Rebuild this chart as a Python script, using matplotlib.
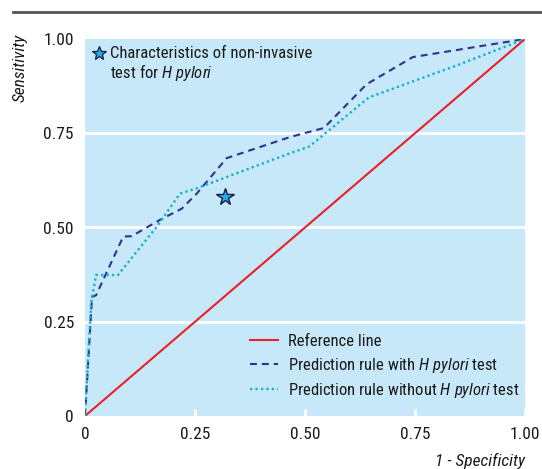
import matplotlib
matplotlib.use("Agg")
import matplotlib.pyplot as plt
from matplotlib.lines import Line2D

FONT = "Roboto Condensed"
plt.rcParams['font.family'] = [FONT, 'DejaVu Sans']
plt.rcParams['mathtext.fontset'] = 'custom'
plt.rcParams['mathtext.rm'] = FONT
plt.rcParams['mathtext.it'] = FONT + ':italic'

# Data
ref_x = [0, 1]
ref_y = [0, 1]
with_x = [0, 0.016, 0.025, 0.087, 0.106, 0.17, 0.22, 0.254, 0.322, 0.466, 0.543, 0.64, 0.745, 1.0]
with_y = [0, 0.316, 0.32, 0.476, 0.477, 0.52, 0.55, 0.59, 0.684, 0.74, 0.764, 0.88, 0.952, 1.0]
without_x = [0, 0.014, 0.025, 0.075, 0.163, 0.216, 0.254, 0.466, 0.51, 0.645, 0.845, 1.0]
without_y = [0, 0.30, 0.374, 0.374, 0.502, 0.59, 0.604, 0.697, 0.715, 0.845, 0.93, 1.0]
star_x = [0.318]
star_y = [0.581]
xticks = [0, 0.25, 0.5, 0.75, 1.0]
xticklabels = ["0", "0.25", "0.50", "0.75", "1.00"]
yticks = [0, 0.25, 0.5, 0.75, 1.0]
yticklabels = ["0", "0.25", "0.50", "0.75", "1.00"]

BG = "#c6e8f8"
RED = "#e8202a"
NAVY = "#2e3192"
TEAL = "#16b2c8"
STAR = "#29abe2"
TXT = "#1a1a1a"
FS = 12

W, H = 542, 469
fig = plt.figure(figsize=(W / 100, H / 100), dpi=100)
ax = fig.add_axes([85 / W, 1 - 416 / H, 440 / W, 377 / H])
ax.set_facecolor(BG)
for s in ax.spines.values():
    s.set_visible(False)
ax.set_xlim(0, 1)
ax.set_ylim(0, 1)

for yv in [0.25, 0.5, 0.75]:
    ax.axhline(yv, color="white", lw=2, zorder=1)

ax.plot(ref_x, ref_y, color=RED, lw=1.5, zorder=3, label="Reference line")
ax.plot(with_x, with_y, color=NAVY, lw=1.5, ls=(0, (3.3, 2.4)), zorder=4,
        label="Prediction rule with $\\it{H\\ pylori}$ test")
ax.plot(without_x, without_y, color=TEAL, lw=1.7, ls=(0, (1, 1.3)), zorder=4,
        label="Prediction rule without $\\it{H\\ pylori}$ test")
ax.plot(star_x, star_y, marker="*", ms=13, mfc=STAR, mec="#1a1a40", mew=1.0,
        ls="none", zorder=5)

ax.set_xticks(xticks)
ax.set_xticklabels(xticklabels)
ax.set_yticks(yticks)
ax.set_yticklabels(yticklabels)
ax.tick_params(axis="x", direction="in", length=5, width=2, color="white",
               labelsize=FS + 0.5, pad=8, labelcolor=TXT)
ax.tick_params(axis="y", length=0, labelsize=FS + 0.5, pad=8, labelcolor=TXT)

# upper annotation (star key)
ax.plot([0.032], [0.962], marker="*", ms=10, mfc=STAR, mec="#1a1a40", mew=0.9,
        ls="none", zorder=6, clip_on=False)
ax.text(0.057, 0.962, "Characteristics of non-invasive", fontsize=FS,
        va="center", ha="left", color=TXT)
ax.text(0.057, 0.912, "test for $\\it{H\\ pylori}$", fontsize=FS, va="center",
        ha="left", color=TXT)

leg = ax.legend(loc="center left", bbox_to_anchor=((250 - 85) / 440, (416 - 367) / 377),
                frameon=False, fontsize=FS, handlelength=1.7, handletextpad=0.6,
                labelspacing=0.38, borderaxespad=0, borderpad=0)
for t in leg.get_texts():
    t.set_color(TXT)

fig.text(20 / W, 1 - 34 / H, "Sensitivity", rotation=90, fontsize=FS + 0.5, style="italic",
         ha="center", va="top", color=TXT)
fig.text(525 / W, 1 - 461 / H, "1 - Specificity", fontsize=FS + 0.5, style="italic",
         ha="right", va="center", color=TXT)

fig.add_artist(Line2D([13 / W, 1.0], [1 - 12 / H, 1 - 12 / H], color="#555555", lw=2))

fig.savefig("out.png", dpi=100, facecolor="white")
